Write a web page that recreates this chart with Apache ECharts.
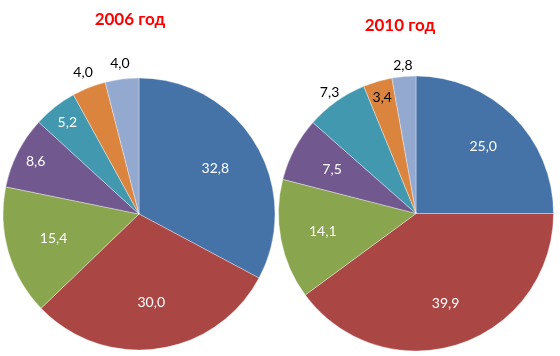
<!DOCTYPE html>
<html>
<head>
<meta charset="utf-8">
<script src="https://cdn.jsdelivr.net/npm/echarts@6/dist/echarts.min.js"></script>
<style>
html,body{margin:0;padding:0;background:#fff;}
#chart{width:560px;height:356px;}
</style>
</head>
<body>
<div id="chart"></div>
<script>
// Data
var titles = ['2006 год', '2010 год'];
var values2006 = [32.8, 30.0, 15.4, 8.6, 5.2, 4.0, 4.0];
var values2010 = [25.0, 39.9, 14.1, 7.5, 7.3, 3.4, 2.8];
var colors = ['#4572A7', '#AA4643', '#89A54E', '#71588F', '#4198AF', '#DB843D', '#93A9CF'];

// Label placement groups (style only): indices whose label sits at given radial distance
var labelGroups2006 = [
  {idx: [0, 1, 2], r: 172, color: '#fff'},
  {idx: [3, 4], r: 226, color: '#fff'},
  {idx: [5, 6], r: 298, color: '#000'}
];
var labelGroups2010 = [
  {idx: [0, 1, 2, 3], r: 184, color: '#fff'},
  {idx: [5], r: 236, color: '#000'},
  {idx: [4, 6], r: 292, color: '#000'}
];

function fmt(v) { return v.toFixed(1).replace('.', ','); }

function buildSeries(values, center, radius, groups) {
  var out = [];
  out.push({
    type: 'pie',
    center: center,
    radius: radius,
    startAngle: 90,
    clockwise: true,
    animation: false,
    silent: true,
    label: {show: false},
    labelLine: {show: false},
    itemStyle: {borderColor: 'rgba(255,255,255,0.6)', borderWidth: 0.6},
    data: values.map(function (v, i) {
      return {value: v, itemStyle: {color: colors[i]}};
    })
  });
  groups.forEach(function (g) {
    out.push({
      type: 'pie',
      center: center,
      radius: [0, g.r],
      startAngle: 90,
      clockwise: true,
      animation: false,
      silent: true,
      avoidLabelOverlap: false,
      itemStyle: {color: 'rgba(0,0,0,0)', borderWidth: 0},
      labelLine: {show: false},
      label: {
        show: true,
        position: 'inside',
        fontFamily: 'Lato',
        fontSize: 14,
        color: g.color,
        formatter: function (p) { return fmt(p.value); }
      },
      emphasis: {disabled: true},
      data: values.map(function (v, i) {
        return {value: v, label: {show: g.idx.indexOf(i) >= 0}};
      })
    });
  });
  return out;
}

var chart = echarts.init(document.getElementById('chart'), null, {renderer: 'canvas'});
var series = []
  .concat(buildSeries(values2006, [139, 214], 136, labelGroups2006))
  .concat(buildSeries(values2010, [416, 213.5], 137.5, labelGroups2010));

chart.setOption({
  backgroundColor: '#fff',
  animation: false,
  title: [
    {text: titles[0], left: 130, top: 11, textAlign: 'center', padding: 0,
     textStyle: {fontFamily: 'Lato', fontWeight: 'bold', fontSize: 17, color: '#FF0000'}},
    {text: titles[1], left: 400, top: 17, textAlign: 'center', padding: 0,
     textStyle: {fontFamily: 'Lato', fontWeight: 'bold', fontSize: 17, color: '#FF0000'}}
  ],
  series: series
});
</script>
</body>
</html>
